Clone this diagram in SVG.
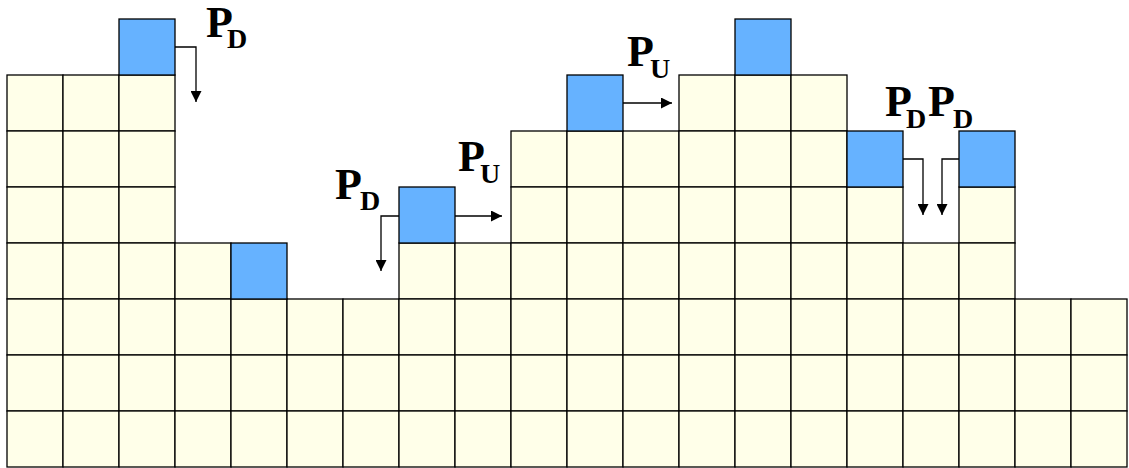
<svg xmlns="http://www.w3.org/2000/svg" xmlns:xlink="http://www.w3.org/1999/xlink" width="1129" height="468" viewBox="0 0 1129 468">
<style>
.cream{fill:#FFFFE9;stroke:#000;stroke-width:1.3}
.blue{fill:#66B2FF;stroke:#000;stroke-width:1.3}
.arr{fill:none;stroke:#000;stroke-width:1.3;marker-end:url(#ah)}
.lbl{font-family:"Liberation Serif","Times New Roman",serif;font-weight:bold;font-size:44px;fill:#000}
.sub{font-size:28px}
</style>
<defs>
<rect id="c" width="56" height="56" class="cream"/>
<rect id="b" width="56" height="56" class="blue"/>
<marker id="ah" markerUnits="userSpaceOnUse" markerWidth="11" markerHeight="11" refX="11" refY="5.5" orient="auto"><path d="M0,0 L11,5.5 L0,11 Z" fill="#000"/></marker>
</defs>
<rect width="1129" height="468" fill="#fff"/>
<g id="col0"><use href="#c" x="7" y="75"/><use href="#c" x="7" y="131"/><use href="#c" x="7" y="187"/><use href="#c" x="7" y="243"/><use href="#c" x="7" y="299"/><use href="#c" x="7" y="355"/><use href="#c" x="7" y="411"/></g>
<g id="col1"><use href="#c" x="63" y="75"/><use href="#c" x="63" y="131"/><use href="#c" x="63" y="187"/><use href="#c" x="63" y="243"/><use href="#c" x="63" y="299"/><use href="#c" x="63" y="355"/><use href="#c" x="63" y="411"/></g>
<g id="col2"><use href="#c" x="119" y="75"/><use href="#c" x="119" y="131"/><use href="#c" x="119" y="187"/><use href="#c" x="119" y="243"/><use href="#c" x="119" y="299"/><use href="#c" x="119" y="355"/><use href="#c" x="119" y="411"/></g>
<g id="col3"><use href="#c" x="175" y="243"/><use href="#c" x="175" y="299"/><use href="#c" x="175" y="355"/><use href="#c" x="175" y="411"/></g>
<g id="col4"><use href="#c" x="231" y="299"/><use href="#c" x="231" y="355"/><use href="#c" x="231" y="411"/></g>
<g id="col5"><use href="#c" x="287" y="299"/><use href="#c" x="287" y="355"/><use href="#c" x="287" y="411"/></g>
<g id="col6"><use href="#c" x="343" y="299"/><use href="#c" x="343" y="355"/><use href="#c" x="343" y="411"/></g>
<g id="col7"><use href="#c" x="399" y="243"/><use href="#c" x="399" y="299"/><use href="#c" x="399" y="355"/><use href="#c" x="399" y="411"/></g>
<g id="col8"><use href="#c" x="455" y="243"/><use href="#c" x="455" y="299"/><use href="#c" x="455" y="355"/><use href="#c" x="455" y="411"/></g>
<g id="col9"><use href="#c" x="511" y="131"/><use href="#c" x="511" y="187"/><use href="#c" x="511" y="243"/><use href="#c" x="511" y="299"/><use href="#c" x="511" y="355"/><use href="#c" x="511" y="411"/></g>
<g id="col10"><use href="#c" x="567" y="131"/><use href="#c" x="567" y="187"/><use href="#c" x="567" y="243"/><use href="#c" x="567" y="299"/><use href="#c" x="567" y="355"/><use href="#c" x="567" y="411"/></g>
<g id="col11"><use href="#c" x="623" y="131"/><use href="#c" x="623" y="187"/><use href="#c" x="623" y="243"/><use href="#c" x="623" y="299"/><use href="#c" x="623" y="355"/><use href="#c" x="623" y="411"/></g>
<g id="col12"><use href="#c" x="679" y="75"/><use href="#c" x="679" y="131"/><use href="#c" x="679" y="187"/><use href="#c" x="679" y="243"/><use href="#c" x="679" y="299"/><use href="#c" x="679" y="355"/><use href="#c" x="679" y="411"/></g>
<g id="col13"><use href="#c" x="735" y="75"/><use href="#c" x="735" y="131"/><use href="#c" x="735" y="187"/><use href="#c" x="735" y="243"/><use href="#c" x="735" y="299"/><use href="#c" x="735" y="355"/><use href="#c" x="735" y="411"/></g>
<g id="col14"><use href="#c" x="791" y="75"/><use href="#c" x="791" y="131"/><use href="#c" x="791" y="187"/><use href="#c" x="791" y="243"/><use href="#c" x="791" y="299"/><use href="#c" x="791" y="355"/><use href="#c" x="791" y="411"/></g>
<g id="col15"><use href="#c" x="847" y="187"/><use href="#c" x="847" y="243"/><use href="#c" x="847" y="299"/><use href="#c" x="847" y="355"/><use href="#c" x="847" y="411"/></g>
<g id="col16"><use href="#c" x="903" y="243"/><use href="#c" x="903" y="299"/><use href="#c" x="903" y="355"/><use href="#c" x="903" y="411"/></g>
<g id="col17"><use href="#c" x="959" y="187"/><use href="#c" x="959" y="243"/><use href="#c" x="959" y="299"/><use href="#c" x="959" y="355"/><use href="#c" x="959" y="411"/></g>
<g id="col18"><use href="#c" x="1015" y="299"/><use href="#c" x="1015" y="355"/><use href="#c" x="1015" y="411"/></g>
<g id="col19"><use href="#c" x="1071" y="299"/><use href="#c" x="1071" y="355"/><use href="#c" x="1071" y="411"/></g>
<g id="blue-cells">
<use id="blue1" href="#b" x="119" y="19"/>
<use id="blue2" href="#b" x="231" y="243"/>
<use id="blue3" href="#b" x="399" y="187"/>
<use id="blue4" href="#b" x="567" y="75"/>
<use id="blue5" href="#b" x="735" y="19"/>
<use id="blue6" href="#b" x="847" y="131"/>
<use id="blue7" href="#b" x="959" y="131"/>
</g>
<g id="connectors">
<path class="arr" d="M175,47 H196 V102"/>
<path class="arr" d="M399,216 H381 V271"/>
<path class="arr" d="M455,216 H502"/>
<path class="arr" d="M623,103 H672"/>
<path class="arr" d="M903,159 H923 V215"/>
<path class="arr" d="M959,159 H942 V215"/>
</g>
<g id="labels">
<text class="lbl" x="206" y="37">P<tspan class="sub" x="227" y="48">D</tspan></text>
<text class="lbl" x="335" y="199">P<tspan class="sub" x="360" y="210">D</tspan></text>
<text class="lbl" x="458" y="171">P<tspan class="sub" x="480" y="183">U</tspan></text>
<text class="lbl" x="627" y="66">P<tspan class="sub" x="650" y="78">U</tspan></text>
<text class="lbl" x="885" y="116">P<tspan class="sub" x="906" y="128">D</tspan><tspan x="928" y="116">P</tspan><tspan class="sub" x="953" y="128">D</tspan></text>
</g>
</svg>
